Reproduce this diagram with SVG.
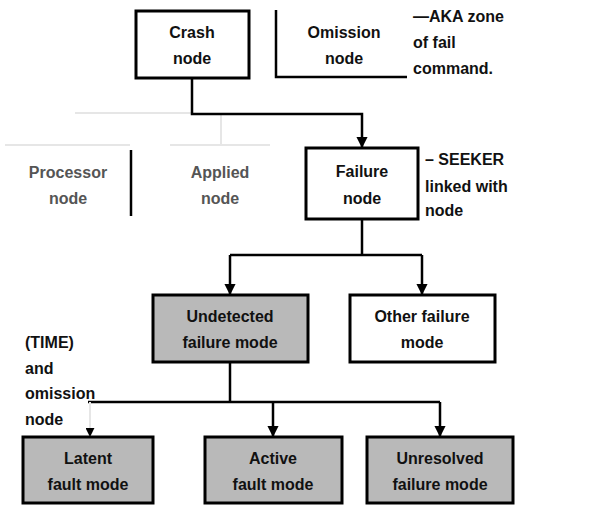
<svg xmlns="http://www.w3.org/2000/svg" width="592" height="505" viewBox="0 0 592 505">
  <style>
    .box { fill: #ffffff; stroke: #000000; stroke-width: 3; }
    .shade { fill: #b9b9b9; stroke: #000000; stroke-width: 3; }
    .edge { fill: none; stroke: #000000; stroke-width: 2.5; }
    .faint { fill: none; stroke: #e6e6e6; stroke-width: 2; }
    .label { font-family: "Liberation Sans", Arial, sans-serif; font-size: 16px; font-weight: bold; fill: #111111; text-anchor: middle; }
    .dim { fill: #555555; }
    .note { font-family: "Liberation Sans", Arial, sans-serif; font-size: 16px; font-weight: bold; fill: #111111; }
  </style>
  <defs>
    <marker id="arrow" viewBox="0 0 10 10" refX="9" refY="5" markerWidth="4.5" markerHeight="4.5" orient="auto">
      <path d="M0 0 L10 5 L0 10 Z" fill="#000000"/>
    </marker>
  </defs>
  <rect width="592" height="505" fill="#ffffff"/>

  <!-- connectors -->
  <g id="connectors">
    <path class="faint" d="M75 113 H192"/>
    <path class="faint" d="M221 114 V145"/>
    <path class="edge" d="M192 78 V114 H362 V147" marker-end="url(#arrow)"/>
    <path class="edge" d="M362 219 V255"/>
    <path class="edge" d="M230 255 H422"/>
    <path class="edge" d="M230 255 V294" marker-end="url(#arrow)"/>
    <path class="edge" d="M422 255 V294" marker-end="url(#arrow)"/>
    <path class="edge" d="M230 362 V402"/>
    <path class="edge" d="M88 402 H440"/>
    <path class="faint" d="M90 402 V436" marker-end="url(#arrow)"/>
    <path class="edge" d="M273 402 V436" marker-end="url(#arrow)"/>
    <path class="edge" d="M440 402 V436" marker-end="url(#arrow)"/>
  </g>

  <g id="crash">
    <rect class="box" x="136" y="11" width="113" height="67"/>
    <text class="label" x="192" y="38">Crash</text>
    <text class="label" x="192" y="64">node</text>
  </g>

  <g id="omission">
    <path class="edge" d="M276 10 V77 H407"/>
    <text class="label" x="344" y="38">Omission</text>
    <text class="label" x="344" y="64">node</text>
  </g>

  <g id="note-crash">
    <text class="note" x="413" y="22">—AKA zone</text>
    <text class="note" x="413" y="48">of fail</text>
    <text class="note" x="413" y="74">command.</text>
  </g>

  <g id="processor">
    <path class="faint" d="M5 145 H130"/>
    <path class="edge" d="M131 150 V216"/>
    <text class="label dim" x="68" y="178">Processor</text>
    <text class="label dim" x="68" y="204">node</text>
  </g>

  <g id="application">
    <path class="faint" d="M170 145 H270"/>
    <text class="label dim" x="220" y="178">Applied</text>
    <text class="label dim" x="220" y="204">node</text>
  </g>

  <g id="failure">
    <rect class="box" x="306" y="148" width="112" height="71"/>
    <text class="label" x="362" y="177">Failure</text>
    <text class="label" x="362" y="204">node</text>
  </g>

  <g id="note-failure">
    <text class="note" x="425" y="165">– SEEKER</text>
    <text class="note" x="425" y="192">linked with</text>
    <text class="note" x="425" y="216">node</text>
  </g>

  <g id="undetected">
    <rect class="shade" x="153" y="295" width="155" height="67"/>
    <text class="label" x="230" y="322">Undetected</text>
    <text class="label" x="230" y="348">failure mode</text>
  </g>

  <g id="other">
    <rect class="box" x="350" y="295" width="145" height="67"/>
    <text class="label" x="422" y="322">Other failure</text>
    <text class="label" x="422" y="348">mode</text>
  </g>

  <g id="note-time">
    <text class="note" x="25" y="348">(TIME)</text>
    <text class="note" x="25" y="374">and</text>
    <text class="note" x="25" y="399">omission</text>
    <text class="note" x="25" y="425">node</text>
  </g>

  <g id="latent">
    <rect class="shade" x="23" y="437" width="130" height="66"/>
    <text class="label" x="88" y="464">Latent</text>
    <text class="label" x="88" y="490">fault mode</text>
  </g>

  <g id="active">
    <rect class="shade" x="205" y="437" width="137" height="66"/>
    <text class="label" x="273" y="464">Active</text>
    <text class="label" x="273" y="490">fault mode</text>
  </g>

  <g id="unresolved">
    <rect class="shade" x="367" y="437" width="146" height="66"/>
    <text class="label" x="440" y="464">Unresolved</text>
    <text class="label" x="440" y="490">failure mode</text>
  </g>
</svg>
